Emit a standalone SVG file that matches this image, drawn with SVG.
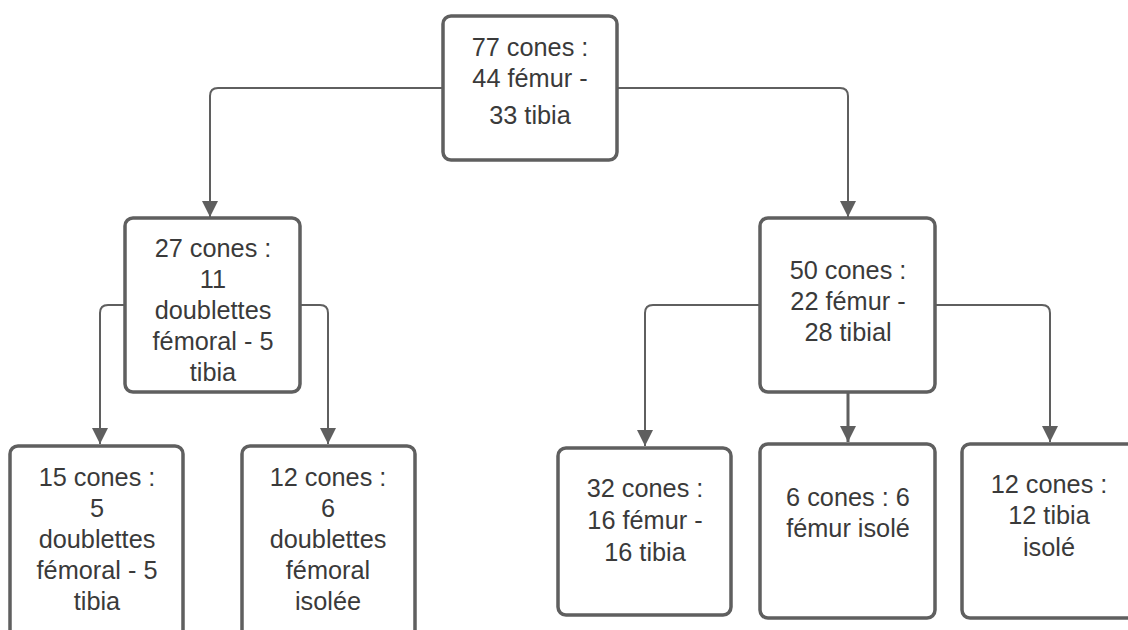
<svg xmlns="http://www.w3.org/2000/svg" width="1128" height="630" viewBox="0 0 1128 630">
<style>
.box{fill:#fff;stroke:#5f5f5f;stroke-width:3.5}
.t{font-family:"Liberation Sans",Arial,sans-serif;font-size:25.3px;fill:#3a3a3a;text-anchor:middle}
.c{fill:none;stroke:#5f5f5f;stroke-width:2}
</style>
<defs>
<marker id="ah" markerUnits="userSpaceOnUse" markerWidth="16" markerHeight="16" refX="16" refY="8" orient="auto" viewBox="0 0 16 16">
<path d="M0,0 L16,8 L0,16 z" fill="#5f5f5f"/>
</marker>
</defs>
<rect width="1128" height="630" fill="#fff"/>
<g id="connectors">
<path class="c" d="M443,88 H218 Q210,88 210,96 V217" marker-end="url(#ah)"/>
<path class="c" d="M617,88 H840 Q848,88 848,96 V217" marker-end="url(#ah)"/>
<path class="c" d="M125,305 H108 Q100,305 100,313 V444" marker-end="url(#ah)"/>
<path class="c" d="M300,305 H320 Q328,305 328,313 V444" marker-end="url(#ah)"/>
<path class="c" d="M760,305 H653 Q645,305 645,313 V446" marker-end="url(#ah)"/>
<path class="c" d="M848,392 V442" marker-end="url(#ah)" style="stroke-width:3"/>
<path class="c" d="M935,305 H1042 Q1050,305 1050,313 V442" marker-end="url(#ah)"/>
</g>
<g id="n77">
<rect class="box" x="443" y="16" width="174" height="144" rx="8"/>
<text class="t" x="530" y="56">77 cones :</text>
<text class="t" x="530" y="87">44 fémur -</text>
<text class="t" x="530" y="124">33 tibia</text>
</g>
<g id="n27">
<rect class="box" x="125" y="218" width="175" height="174" rx="8"/>
<text class="t" x="213" y="257">27 cones :</text>
<text class="t" x="213" y="288">11</text>
<text class="t" x="213" y="319">doublettes</text>
<text class="t" x="213" y="350">fémoral - 5</text>
<text class="t" x="213" y="381">tibia</text>
</g>
<g id="n50">
<rect class="box" x="760" y="218" width="175" height="174" rx="8"/>
<text class="t" x="848" y="279">50 cones :</text>
<text class="t" x="848" y="310">22 fémur -</text>
<text class="t" x="848" y="341">28 tibial</text>
</g>
<g id="n15">
<rect class="box" x="10" y="446" width="173" height="200" rx="8"/>
<text class="t" x="97" y="486">15 cones :</text>
<text class="t" x="97" y="517">5</text>
<text class="t" x="97" y="548">doublettes</text>
<text class="t" x="97" y="579">fémoral - 5</text>
<text class="t" x="97" y="610">tibia</text>
</g>
<g id="n12a">
<rect class="box" x="242" y="446" width="173" height="200" rx="8"/>
<text class="t" x="328" y="486">12 cones :</text>
<text class="t" x="328" y="517">6</text>
<text class="t" x="328" y="548">doublettes</text>
<text class="t" x="328" y="579">fémoral</text>
<text class="t" x="328" y="610">isolée</text>
</g>
<g id="n32">
<rect class="box" x="558" y="448" width="173" height="167" rx="8"/>
<text class="t" x="645" y="497">32 cones :</text>
<text class="t" x="645" y="529">16 fémur -</text>
<text class="t" x="645" y="561">16 tibia</text>
</g>
<g id="n6">
<rect class="box" x="760" y="444" width="175" height="174" rx="8"/>
<text class="t" x="848" y="506">6 cones : 6</text>
<text class="t" x="848" y="537">fémur isolé</text>
</g>
<g id="n12b">
<rect class="box" x="962" y="444" width="175" height="174" rx="8"/>
<text class="t" x="1049" y="493">12 cones :</text>
<text class="t" x="1049" y="524">12 tibia</text>
<text class="t" x="1049" y="556">isolé</text>
</g>
</svg>
